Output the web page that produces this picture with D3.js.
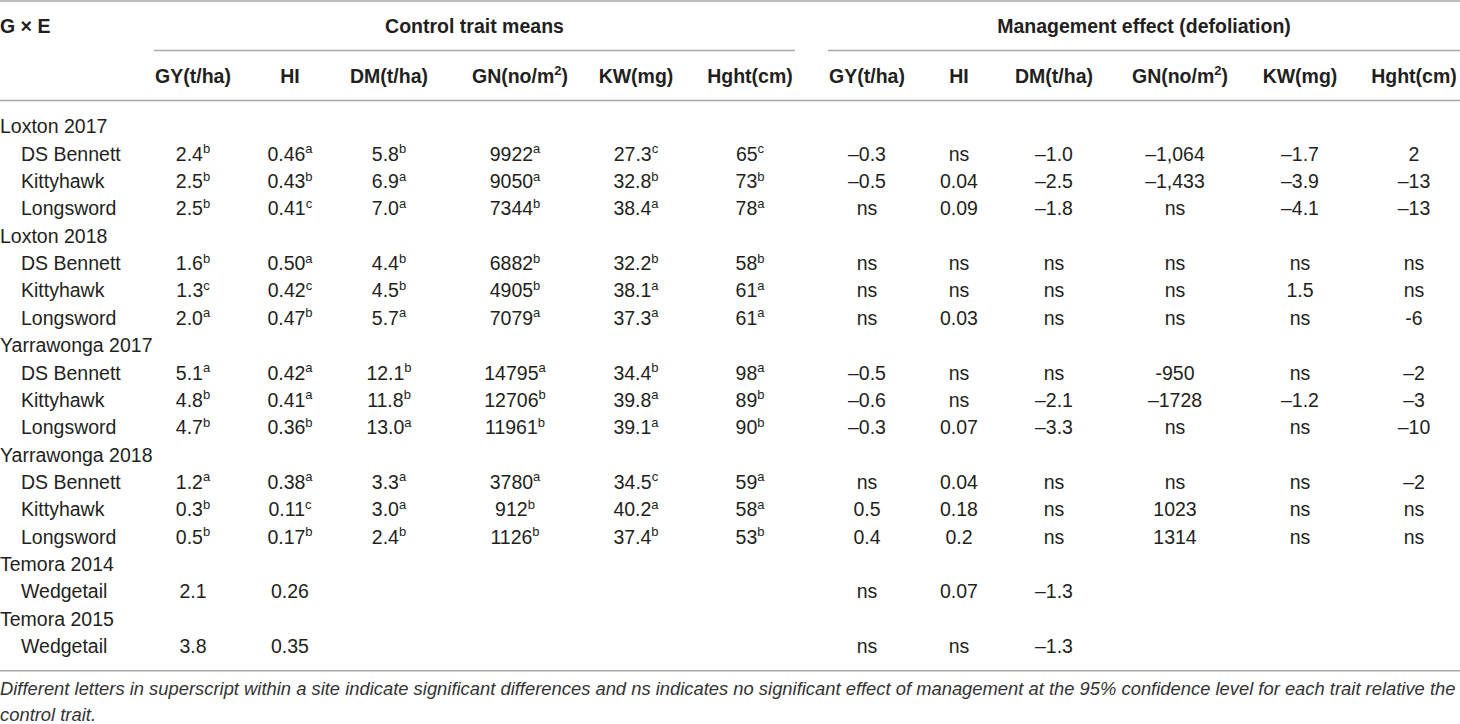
<!DOCTYPE html>
<html>
<head>
<meta charset="utf-8">
<script src="https://cdn.jsdelivr.net/npm/d3@7"></script>
<style>
  html, body { margin: 0; padding: 0; background: #fff; }
  svg { display: block; }
</style>
</head>
<body>
<svg id="chart" width="1460" height="724"></svg>
<script>
// ---------------- data ----------------
const sites = ["Loxton 2017", "Loxton 2018", "Yarrawonga 2017", "Yarrawonga 2018", "Temora 2014", "Temora 2015"];
const genotypes = [
  ["DS Bennett", "Kittyhawk", "Longsword"],
  ["DS Bennett", "Kittyhawk", "Longsword"],
  ["DS Bennett", "Kittyhawk", "Longsword"],
  ["DS Bennett", "Kittyhawk", "Longsword"],
  ["Wedgetail"],
  ["Wedgetail"]
];
const traitHeaders = ["GY(t/ha)", "HI", "DM(t/ha)", "GN(no/m^2)", "KW(mg)", "Hght(cm)"];
const groupTitles = ["Control trait means", "Management effect (defoliation)"];
const cornerLabel = "G × E";

// values: "value^superscript"
const controlGY   = ["2.4^b","2.5^b","2.5^b","1.6^b","1.3^c","2.0^a","5.1^a","4.8^b","4.7^b","1.2^a","0.3^b","0.5^b","2.1","3.8"];
const controlHI   = ["0.46^a","0.43^b","0.41^c","0.50^a","0.42^c","0.47^b","0.42^a","0.41^a","0.36^b","0.38^a","0.11^c","0.17^b","0.26","0.35"];
const controlDM   = ["5.8^b","6.9^a","7.0^a","4.4^b","4.5^b","5.7^a","12.1^b","11.8^b","13.0^a","3.3^a","3.0^a","2.4^b","",""];
const controlGN   = ["9922^a","9050^a","7344^b","6882^b","4905^b","7079^a","14795^a","12706^b","11961^b","3780^a","912^b","1126^b","",""];
const controlKW   = ["27.3^c","32.8^b","38.4^a","32.2^b","38.1^a","37.3^a","34.4^b","39.8^a","39.1^a","34.5^c","40.2^a","37.4^b","",""];
const controlHght = ["65^c","73^b","78^a","58^b","61^a","61^a","98^a","89^b","90^b","59^a","58^a","53^b","",""];

const effectGY   = ["–0.3","–0.5","ns","ns","ns","ns","–0.5","–0.6","–0.3","ns","0.5","0.4","ns","ns"];
const effectHI   = ["ns","0.04","0.09","ns","ns","0.03","ns","ns","0.07","0.04","0.18","0.2","0.07","ns"];
const effectDM   = ["–1.0","–2.5","–1.8","ns","ns","ns","ns","–2.1","–3.3","ns","ns","ns","–1.3","–1.3"];
const effectGN   = ["–1,064","–1,433","ns","ns","ns","ns","-950","–1728","ns","ns","1023","1314","",""];
const effectKW   = ["–1.7","–3.9","–4.1","ns","1.5","ns","ns","–1.2","ns","ns","ns","ns","",""];
const effectHght = ["2","–13","–13","ns","ns","-6","–2","–3","–10","–2","ns","ns","",""];

const footnote = [
  "Different letters in superscript within a site indicate significant differences and ns indicates no significant effect of management at the 95% confidence level for each trait relative the",
  "control trait."
];

// ---------------- layout ----------------
const W = 1460, H = 724;
const FONT = "'Liberation Sans', Arial, Helvetica, sans-serif";
const INK = "#231f20";
const RULE = "#a8a8a8";
const FS = 19.5, SUP = 13;

const columns = [
  {key: "cGY", vals: controlGY},  {key: "cHI", vals: controlHI},  {key: "cDM", vals: controlDM},
  {key: "cGN", vals: controlGN},  {key: "cKW", vals: controlKW},  {key: "cHg", vals: controlHght},
  {key: "eGY", vals: effectGY},   {key: "eHI", vals: effectHI},   {key: "eDM", vals: effectDM},
  {key: "eGN", vals: effectGN},   {key: "eKW", vals: effectKW},   {key: "eHg", vals: effectHght}
];
const x = d3.scaleOrdinal()
  .domain(columns.map(c => c.key))
  .range([193, 290, 389, 515, 636, 750, 867, 959, 1054, 1175, 1300, 1414]);

// rows
const rows = [];
let gi = 0;
sites.forEach((s, i) => {
  rows.push({type: "site", label: s});
  genotypes[i].forEach(g => rows.push({type: "geno", label: g, idx: gi++}));
});
const y = d3.scaleLinear().domain([0, rows.length - 1]).range([133.4, 653]);

const svg = d3.select("#chart")
  .attr("font-family", FONT)
  .attr("fill", INK);

function addValue(sel, str, fs, supFs, shift) {
  const parts = str.split("^");
  sel.append("tspan").text(parts[0]);
  if (parts.length > 1) {
    sel.append("tspan").attr("font-size", supFs).attr("dy", -shift).text(parts[1]);
  }
}

// rules
const rules = [
  {x1: 0, x2: W, y: 1},
  {x1: 154, x2: 795, y: 50.5},
  {x1: 828, x2: W, y: 50.5},
  {x1: 0, x2: W, y: 100.5},
  {x1: 0, x2: W, y: 670.7}
];
svg.selectAll("line.rule").data(rules).join("line")
  .attr("class", "rule")
  .attr("x1", d => d.x1).attr("x2", d => d.x2)
  .attr("y1", d => d.y).attr("y2", d => d.y)
  .attr("stroke", RULE).attr("stroke-width", 1.6);

// header row 1
svg.append("text").attr("x", 0).attr("y", 33.3)
  .attr("font-size", FS).attr("font-weight", "bold").text(cornerLabel);
const groupCenters = [474.5, 1144];
svg.selectAll("text.group").data(groupTitles).join("text")
  .attr("class", "group")
  .attr("x", (d, i) => groupCenters[i]).attr("y", 33.3)
  .attr("text-anchor", "middle").attr("font-size", FS).attr("font-weight", "bold")
  .text(d => d);

// header row 2
const headerCells = columns.map((c, i) => ({key: c.key, label: traitHeaders[i % 6]}));
svg.selectAll("text.head").data(headerCells).join("text")
  .attr("class", "head")
  .attr("x", d => x(d.key) + (d.key.endsWith("GN") ? 5 : 0)).attr("y", 83.3)
  .attr("text-anchor", "middle").attr("font-size", FS).attr("font-weight", "bold")
  .each(function(d) {
    const t = d3.select(this);
    const m = d.label.match(/^(.*)\^(\d)(.*)$/);
    if (m) {
      t.append("tspan").text(m[1]);
      t.append("tspan").attr("font-size", SUP).attr("dy", -8).text(m[2]);
      t.append("tspan").attr("dy", 8).text(m[3]);
    } else {
      t.text(d.label);
    }
  });

// row labels
svg.selectAll("text.rowlabel").data(rows).join("text")
  .attr("class", "rowlabel")
  .attr("x", d => d.type === "site" ? 0 : 21)
  .attr("y", (d, i) => y(i))
  .attr("font-size", FS)
  .text(d => d.label);

// cells
const cells = [];
rows.forEach((r, i) => {
  if (r.type !== "geno") return;
  columns.forEach(c => {
    const v = c.vals[r.idx];
    if (v) cells.push({row: i, key: c.key, v});
  });
});
svg.selectAll("text.cell").data(cells).join("text")
  .attr("class", "cell")
  .attr("x", d => x(d.key)).attr("y", d => y(d.row))
  .attr("text-anchor", "middle").attr("font-size", FS)
  .each(function(d) { addValue(d3.select(this), d.v, FS, SUP, 7.5); });

// footnote
const fn = svg.selectAll("text.foot").data(footnote).join("text")
  .attr("class", "foot")
  .attr("x", 0).attr("y", (d, i) => [694.7, 720.7][i])
  .attr("font-size", 17).attr("font-style", "italic").attr("fill", "#333")
  .text(d => d);
const w0 = fn.node().getComputedTextLength();
const fsFit = 17 * 1456 / w0;
fn.attr("font-size", fsFit);
</script>
</body>
</html>
